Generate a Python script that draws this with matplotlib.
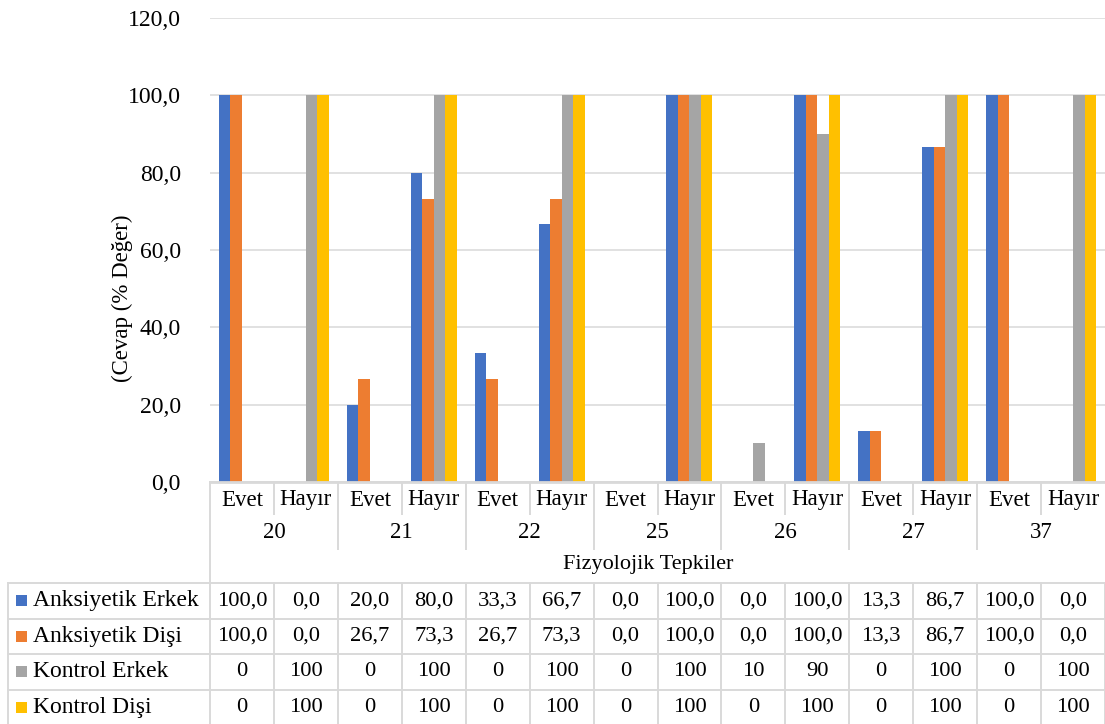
import matplotlib
matplotlib.use("Agg")
import matplotlib.pyplot as plt
import matplotlib.transforms as mtransforms
from matplotlib.lines import Line2D
from matplotlib.patches import Rectangle
import numpy as np

plt.rcParams["font.family"] = ["Liberation Serif", "DejaVu Serif"]

# ---- datos ----
tepkiler = ["20", "21", "22", "25", "26", "27", "37"]
cevaplar = ["Evet", "Hayır"]

anksiyetik_erkek = [100.0, 0.0, 20.0, 80.0, 33.3, 66.7, 0.0, 100.0, 0.0, 100.0, 13.3, 86.7, 100.0, 0.0]
anksiyetik_disi  = [100.0, 0.0, 26.7, 73.3, 26.7, 73.3, 0.0, 100.0, 0.0, 100.0, 13.3, 86.7, 100.0, 0.0]
kontrol_erkek    = [0, 100, 0, 100, 0, 100, 0, 100, 10, 90, 0, 100, 0, 100]
kontrol_disi     = [0, 100, 0, 100, 0, 100, 0, 100, 0, 100, 0, 100, 0, 100]

seriler = ["Anksiyetik Erkek", "Anksiyetik Dişi", "Kontrol Erkek", "Kontrol Dişi"]
valores = [anksiyetik_erkek, anksiyetik_disi, kontrol_erkek, kontrol_disi]
formatos = ["{:.1f}", "{:.1f}", "{:.0f}", "{:.0f}"]
colores = ["#4472C4", "#ED7D31", "#A5A5A5", "#FFC000"]

W, H = 1105, 724
gris = "#d9d9d9"
fs = 16.5

fig = plt.figure(figsize=(W / 100, H / 100), dpi=100)
ax = fig.add_axes([210 / W, 1 - 482 / H, (W - 210) / W, (482 - 18) / H])

n = len(anksiyetik_erkek)
x = np.arange(n)
ancho = 0.18
for i, (vals, c) in enumerate(zip(valores, colores)):
    ax.bar(x + (i - 1.5) * ancho, vals, width=ancho, color=c, linewidth=0, zorder=3)

ax.set_xlim(-0.5, n - 0.5)
ax.set_ylim(0, 120)
ax.set_yticks(np.arange(0, 121, 20))
ax.set_yticklabels([f"{v:.1f}".replace(".", ",") for v in np.arange(0, 121, 20)], fontsize=17)
ax.tick_params(axis="y", length=0, pad=21)
ax.set_xticks([])
for s in ax.spines.values():
    s.set_visible(False)
ax.yaxis.grid(True, color=gris, linewidth=1.1, zorder=0)
ax.set_axisbelow(True)
ax.axhline(0, color=gris, linewidth=2, zorder=4, clip_on=False)

fig.text(122 / W, 1 - 298 / H, "(Cevap (% Değer)", rotation=90, fontsize=fs,
         ha="center", va="center")

# ---- tabla de datos bajo el eje ----
trans = mtransforms.blended_transform_factory(ax.transData, fig.transFigure)


def fy(py):
    return 1 - py / H


def linea(xs, ys, tr):
    fig.add_artist(Line2D(xs, ys, transform=tr, color=gris, linewidth=1.4, clip_on=False))


# etiquetas de categorías
for i in range(n):
    ax.text(i, fy(500), cevaplar[i % 2], transform=trans, ha="center", va="center", fontsize=fs)
    if i > 0:
        bajo = 549 if i % 2 == 0 else 514
        linea([i - 0.5, i - 0.5], [fy(482), fy(bajo)], trans)
for g, t in enumerate(tepkiler):
    ax.text(2 * g + 0.5, fy(533), t, transform=trans, ha="center", va="center", fontsize=fs)
fig.text(648 / W, fy(565), "Fizyolojik Tepkiler", ha="center", va="center", fontsize=16)

# marco de la tabla
filas_y = [583, 618.5, 654, 689.5, 725]
linea([-0.5, -0.5], [fy(482), fy(filas_y[-1])], trans)
for yy in filas_y:
    linea([8 / W, 1], [fy(yy), fy(yy)], fig.transFigure)
linea([8 / W, 8 / W], [fy(filas_y[0]), fy(filas_y[-1])], fig.transFigure)
for i in range(1, n + 1):
    linea([i - 0.5, i - 0.5], [fy(filas_y[0]), fy(filas_y[-1])], trans)

for r, (nombre, vals, fmt, c) in enumerate(zip(seriler, valores, formatos, colores)):
    yc = (filas_y[r] + filas_y[r + 1]) / 2
    fig.add_artist(Rectangle((16 / W, fy(yc + 5.5)), 11 / W, 11 / H,
                             transform=fig.transFigure, color=c, linewidth=0))
    fig.text(33 / W, fy(yc), nombre, ha="left", va="center", fontsize=17)
    for i, v in enumerate(vals):
        ax.text(i, fy(yc), fmt.format(v).replace(".", ","), transform=trans,
                ha="center", va="center", fontsize=16.2)

fig.savefig("out.png", dpi=100)
